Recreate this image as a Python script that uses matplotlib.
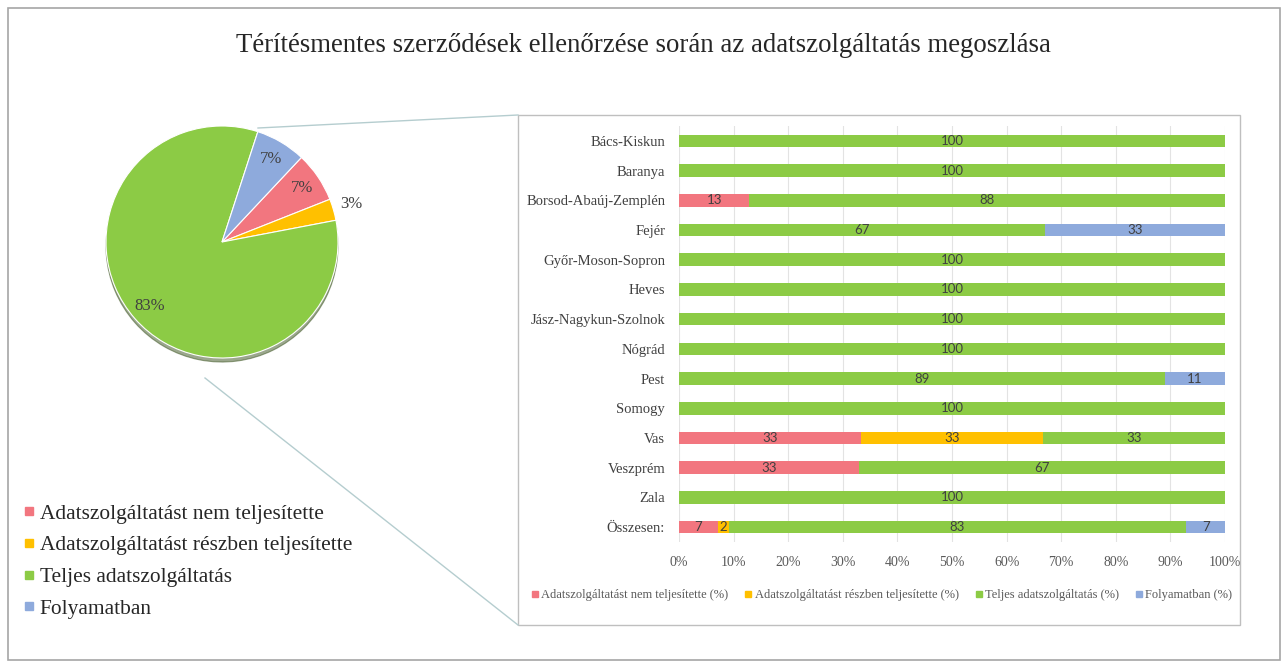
import matplotlib.pyplot as plt
import numpy as np
from matplotlib.lines import Line2D
from matplotlib.patches import Rectangle

# data
categories = ["Adatszolgáltatást nem teljesítette", "Adatszolgáltatást részben teljesítette",
              "Teljes adatszolgáltatás", "Folyamatban"]
bar_series = ["Adatszolgáltatást nem teljesítette (%)", "Adatszolgáltatást részben teljesítette (%)",
              "Teljes adatszolgáltatás (%)", "Folyamatban (%)"]
pie_values = [7, 3, 83, 7]
counties = ["Bács-Kiskun", "Baranya", "Borsod-Abaúj-Zemplén", "Fejér", "Győr-Moson-Sopron",
            "Heves", "Jász-Nagykun-Szolnok", "Nógrád", "Pest", "Somogy", "Vas", "Veszprém",
            "Zala", "Összesen:"]
nem = [0, 0, 13, 0, 0, 0, 0, 0, 0, 0, 33, 33, 0, 7]
reszben = [0, 0, 0, 0, 0, 0, 0, 0, 0, 0, 33, 0, 0, 2]
teljes = [100, 100, 88, 67, 100, 100, 100, 100, 89, 100, 33, 67, 100, 83]
folyamat = [0, 0, 0, 33, 0, 0, 0, 0, 11, 0, 0, 0, 0, 7]

colors = ["#F2767F", "#FFC000", "#8CCB45", "#8EAADC"]
serif = "Liberation Serif"

W, H = 1286, 666
fig = plt.figure(figsize=(W / 100, H / 100), dpi=100)
fig.patch.set_facecolor("white")

def fx(px):
    return px / W

def fy(py):
    return 1 - py / H

# outer frame and chart box
fig.add_artist(Rectangle((fx(8), fy(660)), fx(1272), 652 / H, transform=fig.transFigure,
                         fill=False, edgecolor="#A6A6A6", linewidth=1.2))
fig.add_artist(Rectangle((fx(518), fy(625)), fx(722), 510 / H, transform=fig.transFigure,
                         fill=False, edgecolor="#BFBFBF", linewidth=1.0))

fig.text(0.5, fy(46), "Térítésmentes szerződések ellenőrzése során az adatszolgáltatás megoszlása",
         ha="center", va="center", fontsize=19.3, family=serif, color="#262626")

# pie
cx, cy, R = 222, 242, 116
box = 2.5 * R
axp = fig.add_axes([fx(cx - box / 2), fy(cy + box / 2), box / W, box / H])
wedges, texts, autotexts = axp.pie(pie_values, colors=colors, startangle=46.8, counterclock=False,
                                   autopct="%1.0f%%", pctdistance=0.83,
                                   wedgeprops=dict(edgecolor="white", linewidth=0.8),
                                   shadow=dict(ox=0.0, oy=-0.025, shade=0.6))
for i, t in enumerate(autotexts):
    t.set_family(serif)
    t.set_fontsize(12)
    t.set_color("#404040")
    if i == 1:
        w = wedges[i]
        ang = np.deg2rad((w.theta1 + w.theta2) / 2)
        t.set_position((1.16 * np.cos(ang), 1.16 * np.sin(ang)))
axp.set_xlim(-1.25, 1.25)
axp.set_ylim(-1.25, 1.25)
axp.set_aspect("equal")
axp.axis("off")

# pie legend
handles = [Line2D([], [], marker="s", linestyle="none", markersize=6, color=c) for c in colors]
fig.legend(handles, categories, loc="upper left", bbox_to_anchor=(fx(12), fy(495)),
           frameon=False, prop=dict(family=serif, size=15.4), handletextpad=0.1,
           labelspacing=0.55, borderaxespad=0, handlelength=0.8, labelcolor="#262626")

# connector lines
fig.add_artist(Line2D([fx(258), fx(518)], [fy(128), fy(115)], transform=fig.transFigure,
                      color="#B5CDCF", linewidth=1.0))
fig.add_artist(Line2D([fx(205), fx(518)], [fy(378), fy(625)], transform=fig.transFigure,
                      color="#B5CDCF", linewidth=1.0))

# stacked 100% bar
axb = fig.add_axes([fx(679), fy(542), 546 / W, 416 / H])
data = np.array([nem, reszben, teljes, folyamat], dtype=float)
shares = data / data.sum(axis=0) * 100
y = np.arange(len(counties))
left = np.zeros(len(counties))
for k in range(4):
    bars = axb.barh(y, shares[k], left=left, height=0.42, color=colors[k], label=bar_series[k], zorder=2)
    labels = [f"{v:.0f}" if v > 0 else "" for v in data[k]]
    axb.bar_label(bars, labels=labels, label_type="center", fontsize=9.5, color="#404040",
                  family="Lato")
    left += shares[k]
axb.set_xlim(0, 100)
axb.set_ylim(len(counties) - 0.5, -0.5)
axb.set_yticks(y)
axb.set_yticklabels(counties, family=serif, fontsize=10.5, color="#404040")
axb.set_xticks(np.arange(0, 101, 10))
axb.set_xticklabels([f"{v}%" for v in range(0, 101, 10)], family=serif, fontsize=10, color="#595959")
axb.tick_params(length=0, pad=10)
axb.grid(axis="x", color="#E3E3E3", linewidth=0.8, zorder=0)
for s in axb.spines.values():
    s.set_visible(False)

handles2 = [Line2D([], [], marker="s", linestyle="none", markersize=4.5, color=c) for c in colors]
fig.legend(handles2, bar_series, loc="center", bbox_to_anchor=(fx(881), fy(595)), ncol=4,
           frameon=False, prop=dict(family=serif, size=9), handletextpad=0.1,
           columnspacing=1.2, handlelength=0.8, labelcolor="#595959")

fig.savefig("out.png", dpi=100)
